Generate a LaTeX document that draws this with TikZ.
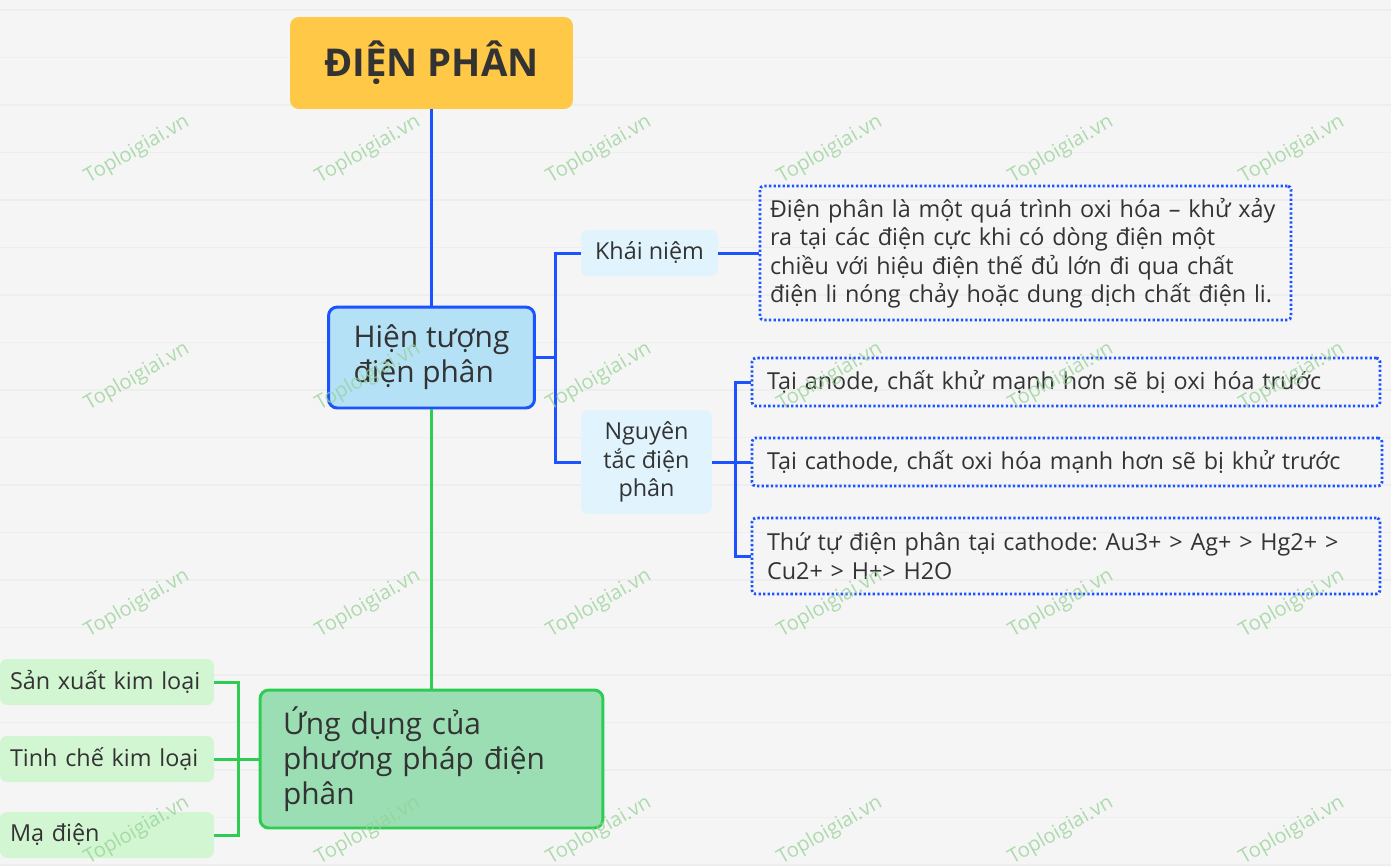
\documentclass[tikz,border=0pt]{standalone}
\usepackage{fontspec}
\setmainfont{Open Sans}
\usetikzlibrary{positioning}
\frenchspacing
\definecolor{ink}{RGB}{51,51,51}
\definecolor{paper}{RGB}{245,245,245}
\definecolor{rule}{RGB}{238,238,238}
\definecolor{rootfill}{RGB}{255,200,70}
\definecolor{linkblue}{RGB}{26,83,255}
\definecolor{linkgreen}{RGB}{46,204,82}
\definecolor{topicblue}{RGB}{181,225,247}
\definecolor{topicgreen}{RGB}{155,222,180}
\definecolor{subblue}{RGB}{225,244,253}
\definecolor{subgreen}{RGB}{210,245,210}
\definecolor{wmgreen}{RGB}{150,210,150}
\tikzset{
	root/.style={rectangle, rounded corners=5pt, fill=rootfill, text=ink, minimum width=5.66cm, minimum height=1.84cm, font=\fontsize{21.8}{26}\selectfont\bfseries},
	topic/.style={rectangle, rounded corners=5pt, line width=1.7pt, text=ink, align=left, font=\fontsize{17}{20}\selectfont},
	sub/.style={rectangle, rounded corners=4pt, fill=subblue, text=ink, align=center, inner sep=2pt, font=\fontsize{13.3}{16.4}\selectfont},
	% dotted boxes on the right
	detail/.style={rectangle, rounded corners=2pt, draw=linkblue, line width=1.6pt, dash pattern=on 1.3pt off 1.3pt, text=ink, align=left, inner ysep=2pt, font=\fontsize{13.3}{16.2}\selectfont},
	app/.style={rectangle, rounded corners=4pt, fill=subgreen, text=ink, align=left, inner xsep=0.2cm, text width=3.88cm, minimum height=0.92cm, font=\fontsize{13.3}{16}\selectfont},
	wmark/.style={text=wmgreen, opacity=0.75, rotate=30, font=\fontsize{11.5}{12}\selectfont},
	blueline/.style={draw=linkblue, line width=1.7pt},
	greenline/.style={draw=linkgreen, line width=1.7pt},
}

\begin{document}
\begin{tikzpicture}[x=0.02cm, y=-0.02cm]
	\useasboundingbox (0,0) rectangle (1391,866);
	\fill[paper] (0,0) rectangle (1391,866);
	\foreach \k in {0,...,18}
		\draw[rule, line width=1pt] (0,10+47.5*\k) -- (1391,10+47.5*\k);
	
	\node (root) [root] at (431.5,63) {ĐIỆN PHÂN};
	\node (hien) [topic, draw=linkblue, fill=topicblue, minimum width=4.12cm, minimum height=2.02cm] at (431.5,357.5) {Hiện tượng\\điện phân};
	\node (ung) [topic, draw=linkgreen, fill=topicgreen, text width=5.94cm, inner xsep=0.46cm, minimum height=2.76cm] at (431.5,759) {Ứng dụng của\\phương pháp điện\\phân};
	
	\node (khai) [sub, minimum width=2.74cm, minimum height=0.92cm] at (649.5,253) {Khái niệm};
	\node (nguyen) [sub, minimum width=2.62cm, minimum height=2.08cm] at (646.5,462) {Nguyên\\tắc điện\\phân};
	
	\node (dinhnghia) [detail, inner xsep=0.2cm, text width=10.22cm, minimum height=2.68cm] at (1025.5,253) {Điện phân là một quá trình oxi hóa – khử xảy\\ra tại các điện cực khi có dòng điện một\\chiều với hiệu điện thế đủ lớn đi qua chất\\điện li nóng chảy hoặc dung dịch chất điện li.};
	\node (anode) [detail, inner xsep=0.3cm, text width=11.96cm, minimum height=0.96cm] at (1066,382) {Tại anode, chất khử mạnh hơn sẽ bị oxi hóa trước};
	\node (cathode) [detail, inner xsep=0.3cm, text width=12cm, minimum height=0.96cm] at (1067,462) {Tại cathode, chất oxi hóa mạnh hơn sẽ bị khử trước};
	\node (thutu) [detail, inner xsep=0.3cm, text width=11.96cm, minimum height=1.52cm] at (1066,556) {Thứ tự điện phân tại cathode: Au3+ > Ag+ > Hg2+ >\\Cu2+ > H+> H2O};
	
	\node (sanxuat) [app] at (107,682) {Sản xuất kim loại};
	\node (tinhche) [app] at (107,759) {Tinh chế kim loại};
	\node (madien) [app] at (107,835) {Mạ điện};
	
	\draw[blueline] (root) -- (hien);
	\draw[greenline] (hien) -- (ung);
	\draw[blueline] (hien.east) -- ++(20,0) |- (khai.west);
	\draw[blueline] (hien.east) -- ++(20,0) |- (nguyen.west);
	\draw[blueline] (khai.east) -- (dinhnghia.west);
	\draw[blueline] (nguyen.east) -- ++(23,0) |- (anode.west);
	\draw[blueline] (nguyen.east) -- (cathode.west);
	\draw[blueline] (nguyen.east) -- ++(23,0) |- (thutu.west);
	\draw[greenline] (ung.west) -- ++(-20,0) |- (sanxuat.east);
	\draw[greenline] (ung.west) -- (tinhche.east);
	\draw[greenline] (ung.west) -- ++(-20,0) |- (madien.east);
	
	\foreach \x in {137,368,599,830,1061,1292}
		\foreach \y in {150,377,604,831}
			\node [wmark] at (\x,\y) {Toploigiai.vn};
\end{tikzpicture}
\end{document}
